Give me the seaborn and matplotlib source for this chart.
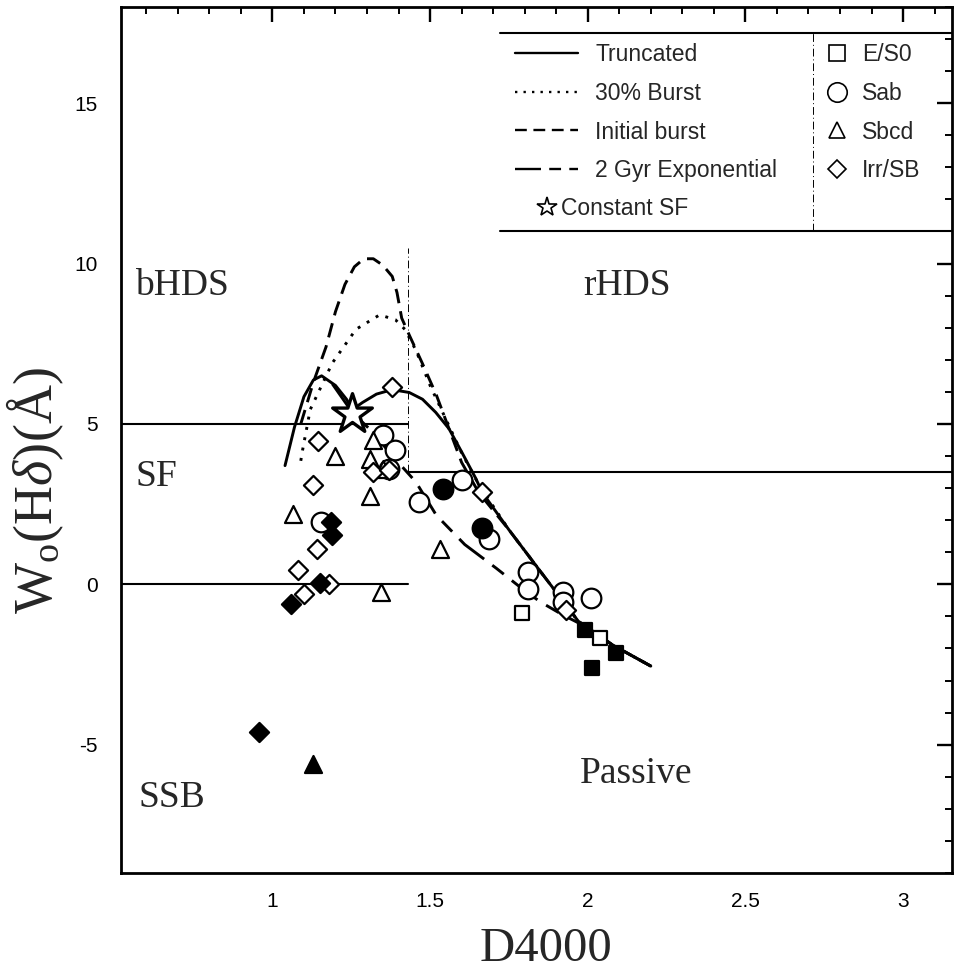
import numpy as np
import pandas as pd
import matplotlib
matplotlib.use("Agg")
import matplotlib.pyplot as plt
import seaborn as sns
from matplotlib.lines import Line2D
from matplotlib.ticker import MultipleLocator, FixedLocator, FuncFormatter

sns.set_theme(style="white")
plt.rcParams['font.family'] = ['Liberation Sans', 'DejaVu Sans']
plt.rcParams['mathtext.fontset'] = 'custom'
plt.rcParams['mathtext.rm'] = 'Liberation Serif'
plt.rcParams['mathtext.it'] = 'Liberation Serif:italic'

# ---------------- model tracks ----------------
trunc_x = [1.04, 1.07, 1.10, 1.13, 1.156, 1.20, 1.235, 1.254, 1.286, 1.33, 1.38, 1.434,
           1.476, 1.518, 1.56, 1.60, 1.645, 1.665, 1.75, 1.85, 1.97, 2.08, 2.2]
trunc_y = [3.7, 4.9, 5.85, 6.37, 6.5, 6.2, 5.77, 5.45, 5.67, 5.93, 6.07, 5.98,
           5.77, 5.36, 4.85, 4.13, 3.3, 2.87, 1.7, 0.4, -1.15, -1.9, -2.55]

burst30_x = [1.09, 1.096, 1.12, 1.19, 1.265, 1.34, 1.39, 1.42, 1.455, 1.50, 1.55, 1.60,
             1.655, 1.75, 1.85, 1.97, 2.08, 2.2]
burst30_y = [3.85, 4.2, 5.45, 6.9, 7.95, 8.4, 8.25, 7.95, 7.3, 6.2, 5.15, 4.1,
             3.1, 1.7, 0.4, -1.15, -1.9, -2.55]

initb_x = [1.09, 1.13, 1.17, 1.20, 1.23, 1.26, 1.29, 1.32, 1.35, 1.38, 1.395, 1.41, 1.435,
           1.475, 1.52, 1.56, 1.60, 1.655, 1.75, 1.85, 1.97, 2.08, 2.2]
initb_y = [5.0, 6.3, 7.4, 8.5, 9.35, 9.9, 10.15, 10.15, 9.95, 9.6, 9.1, 8.3, 7.75,
           6.9, 5.9, 4.85, 3.8, 2.85, 1.7, 0.4, -1.15, -1.9, -2.55]

exp2_x = [1.19, 1.254, 1.32, 1.37, 1.455, 1.52, 1.61, 1.71, 1.80, 1.85, 1.92, 1.97, 2.08, 2.2]
exp2_y = [6.25, 5.35, 4.73, 4.12, 3.19, 2.15, 1.24, 0.5, -0.2, -0.55, -0.95, -1.2, -1.9, -2.55]

constsf_x = [1.254]
constsf_y = [5.3]

# ---------------- galaxies ----------------
es0_open_x = [1.79, 2.04]
es0_open_y = [-0.9, -1.66]
es0_fill_x = [1.99, 2.09, 2.015]
es0_fill_y = [-1.41, -2.15, -2.62]

sab_open_x = [1.35, 1.39, 1.465, 1.60, 1.687, 1.81, 1.81, 1.92, 1.92, 2.01, 1.155, 1.37]
sab_open_y = [4.65, 4.2, 2.57, 3.24, 1.42, 0.39, -0.14, -0.23, -0.54, -0.44, 1.95, 3.6]
sab_fill_x = [1.54, 1.665]
sab_fill_y = [2.98, 1.75]

sbcd_open_x = [1.197, 1.066, 1.32, 1.31, 1.35, 1.31, 1.345, 1.53]
sbcd_open_y = [4.0, 2.2, 4.5, 3.9, 3.6, 2.75, -0.23, 1.1]
sbcd_fill_x = [1.13]
sbcd_fill_y = [-5.6]

irr_open_x = [1.144, 1.128, 1.38, 1.32, 1.37, 1.665, 1.14, 1.082, 1.18, 1.10, 1.93]
irr_open_y = [4.48, 3.1, 6.14, 3.5, 3.55, 2.87, 1.1, 0.45, 0.0, -0.3, -0.8]
irr_fill_x = [1.187, 1.19, 1.15, 1.06, 0.957]
irr_fill_y = [1.95, 1.55, 0.05, -0.6, -4.6]

region_labels = ["bHDS", "rHDS", "SF", "SSB", "Passive"]
region_x = [0.565, 1.985, 0.565, 0.575, 1.975]
region_y = [9.3, 9.3, 3.35, -6.65, -5.9]

xticks_major = [1, 1.5, 2, 2.5, 3]
yticks_major = [-5, 0, 5, 10, 15]

line_labels = ["Truncated", "30% Burst", "Initial burst", "2 Gyr Exponential"]
type_labels = ["E/S0", "Sab", "Sbcd", "Irr/SB"]

# ---------------- figure ----------------
fig = plt.figure(figsize=(9.56, 9.69), dpi=100)
ax = fig.add_axes([0.1266, 0.0991, 0.8692, 0.8937])

LW = 2.1
styles = ['-', (0, (1, 2.6)), (0, (5, 2.8)), (0, (11, 3.5, 5, 3.5))]
tracks = [(trunc_x, trunc_y), (burst30_x, burst30_y), (initb_x, initb_y), (exp2_x, exp2_y)]
for (tx, ty), ls in zip(tracks, styles):
    sns.lineplot(x=tx, y=ty, sort=False, estimator=None, ax=ax, color='black',
                 linewidth=LW, linestyle=ls)

# region boundaries
ax.plot([0.52, 1.43], [5, 5], color='black', lw=1.5)
ax.plot([0.52, 1.43], [0, 0], color='black', lw=1.5)
ax.plot([1.43, 3.155], [3.5, 3.5], color='black', lw=1.5)
ax.plot([1.43, 1.43], [3.5, 10.5], color='black', lw=0.7, linestyle=(0, (8, 3, 1, 3)))

msize = {'s': 110, 'o': 200, '^': 150, 'D': 95}
groups = [
    (es0_open_x, es0_open_y, 's', False), (es0_fill_x, es0_fill_y, 's', True),
    (sab_open_x, sab_open_y, 'o', False), (sab_fill_x, sab_fill_y, 'o', True),
    (sbcd_open_x, sbcd_open_y, '^', False), (sbcd_fill_x, sbcd_fill_y, '^', True),
    (irr_open_x, irr_open_y, 'D', False), (irr_fill_x, irr_fill_y, 'D', True),
]
for gx, gy, mk, filled in groups:
    sns.scatterplot(x=gx, y=gy, marker=mk, s=msize[mk], ax=ax,
                    color='black' if filled else 'white', edgecolor='black',
                    linewidth=1.6, zorder=3)

sns.scatterplot(x=constsf_x, y=constsf_y, marker='*', s=900, ax=ax, color='white',
                edgecolor='black', linewidth=2.4, zorder=4)

for t, tx, ty in zip(region_labels, region_x, region_y):
    ax.text(tx, ty, t, fontsize=27, family='Liberation Serif', va='center', ha='left')

ax.set_xlim(0.52, 3.155)
ax.set_ylim(-9, 18)
ax.xaxis.set_major_locator(FixedLocator(xticks_major))
ax.xaxis.set_minor_locator(MultipleLocator(0.1))
ax.yaxis.set_major_locator(FixedLocator(yticks_major))
ax.yaxis.set_minor_locator(MultipleLocator(1))
ax.xaxis.set_major_formatter(FuncFormatter(lambda v, p: f"{v:g}"))
ax.yaxis.set_major_formatter(FuncFormatter(lambda v, p: f"{v:g}"))
ax.tick_params(which='both', direction='in', top=True, right=True, color='black',
               labelsize=15, labelcolor='black')
ax.tick_params(which='major', length=11, width=1.7)
ax.tick_params(axis='y', which='major', pad=17)
ax.tick_params(axis='x', which='major', pad=14)
ax.tick_params(which='minor', length=5, width=1.4)
for sp in ax.spines.values():
    sp.set_color('black')
    sp.set_linewidth(2.0)

ax.set_xlabel("D4000", fontsize=35, family='Liberation Serif')
ax.set_ylabel(r"W$_{\mathrm{o}}$(H$\delta$)(Å)", fontsize=39, family='Liberation Serif')
ax.xaxis.set_label_coords(0.511, -0.062)
ax.yaxis.set_label_coords(-0.066, 0.442)

# ---------------- legend ----------------
tr = ax.transAxes
ax.plot([0.456, 1.0], [0.970, 0.970], color='black', lw=1.5, transform=tr, clip_on=False)
ax.plot([0.456, 1.0], [0.741, 0.741], color='black', lw=1.5, transform=tr, clip_on=False)
ax.plot([0.833, 0.833], [0.741, 0.970], color='black', lw=0.7, linestyle=(0, (8, 3, 1, 3)),
        transform=tr, clip_on=False)

LFS = 16.5
lh = [Line2D([], [], color='black', lw=1.7, linestyle=ls) for ls in styles]
leg1 = ax.legend(lh, line_labels, loc='upper left', bbox_to_anchor=(0.474, 0.958),
                 frameon=False, fontsize=LFS, handlelength=2.75, handletextpad=0.75,
                 labelspacing=0.68, borderpad=0, borderaxespad=0)
ax.add_artist(leg1)

sh = [Line2D([], [], color='black', marker='*', markersize=15, markerfacecolor='white',
             markeredgewidth=1.2, linestyle='None')]
leg3 = ax.legend(sh, ["Constant SF"], loc='upper left', bbox_to_anchor=(0.4988, 0.780),
                 frameon=False, fontsize=LFS, handlelength=1.0, handletextpad=0.12,
                 borderpad=0, borderaxespad=0)
ax.add_artist(leg3)

mh = [Line2D([], [], color='black', marker=m, markersize=sz, markerfacecolor='white',
             markeredgewidth=1.2, linestyle='None')
      for m, sz in zip(['s', 'o', '^', 'D'], [11, 14, 12, 9])]
leg2 = ax.legend(mh, type_labels, loc='upper left', bbox_to_anchor=(0.8448, 0.958),
                 frameon=False, fontsize=LFS, handlelength=1.2, handletextpad=0.5,
                 labelspacing=0.68, borderpad=0, borderaxespad=0)

fig.savefig("out.png", dpi=100)
